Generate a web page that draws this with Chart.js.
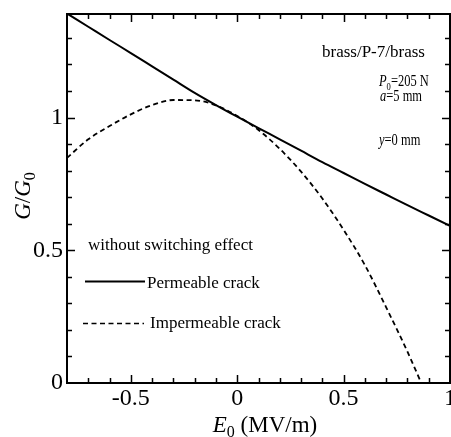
<!DOCTYPE html>
<html>
<head>
<meta charset="utf-8">
<script src="https://cdn.jsdelivr.net/npm/chart.js@4.4.1/dist/chart.umd.min.js"></script>
<style>
html,body{margin:0;padding:0;background:#fff;overflow:hidden}
canvas{display:block}
</style>
</head>
<body>
<canvas id="c" width="451" height="437"></canvas>
<script>
// ---- data ----
const eField      = [-0.8,-0.7,-0.6,-0.5,-0.4,-0.3,-0.2,-0.1,0,0.1,0.2,0.3,0.4,0.5,0.6,0.7,0.8,0.9,1.0];
const permeable   = [1.392,1.342,1.292,1.243,1.193,1.143,1.093,1.047,1.003,0.960,0.918,0.875,0.832,0.791,0.750,0.710,0.670,0.631,0.592];
const eFieldImp   = [-0.8,-0.7,-0.6,-0.5,-0.4,-0.3,-0.2,-0.1,0,0.1,0.2,0.3,0.4,0.5,0.6,0.7,0.8,0.865];
const impermeable = [0.848,0.918,0.968,1.012,1.047,1.066,1.065,1.046,1.006,0.953,0.882,0.796,0.695,0.577,0.444,0.285,0.118,0.0];

const seriesNames = ['Permeable crack', 'Impermeable crack'];
const legendTitle = 'without switching effect';

const xTickValues = [-0.5, 0, 0.5, 1];
const xTickLabels = ['-0.5', '0', '0.5', '1'];
const yTickValues = [0, 0.5, 1];
const yTickLabels = ['0', '0.5', '1'];
const xMinorTicks = [-0.7,-0.6,-0.4,-0.3,-0.2,-0.1,0.1,0.2,0.3,0.4,0.6,0.7,0.8,0.9];
const yMinorTicks = [0.1,0.2,0.3,0.4,0.6,0.7,0.8,0.9,1.1,1.2,1.3];

const xTitle = [{t:'E', i:true}, {t:'0', sub:true}, {t:' (MV/m)'}];
const yTitle = [{t:'G', i:true}, {t:'/'}, {t:'G', i:true}, {t:'0', sub:true}];
const noteMaterial = [{t:'brass/P-7/brass'}];
const noteLoad     = [{t:'P', i:true}, {t:'0', sub:true}, {t:'=205 N'}];
const noteCrack    = [{t:'a', i:true}, {t:'=5 mm'}];
const noteY        = [{t:'y', i:true}, {t:'=0 mm'}];

// ---- helpers ----
const FAMILY = '"Liberation Serif", "Times New Roman", serif';
function segFont(s, size) {
  const sz = s.sub ? Math.round(size * 0.7) : size;
  return (s.i ? 'italic ' : '') + sz + 'px ' + FAMILY;
}
function richWidth(ctx, segs, size) {
  let w = 0;
  segs.forEach(s => { ctx.font = segFont(s, size); w += ctx.measureText(s.t).width; });
  return w;
}
function drawRich(ctx, segs, x, y, size, align, sx) {
  sx = sx || 1;
  ctx.save();
  ctx.translate(x, y);
  ctx.scale(sx, 1);
  let cx = align === 'center' ? -richWidth(ctx, segs, size) / 2 : 0;
  ctx.textAlign = 'left';
  ctx.textBaseline = 'alphabetic';
  segs.forEach(s => {
    ctx.font = segFont(s, size);
    ctx.fillText(s.t, cx, s.sub ? size * 0.22 : 0);
    cx += ctx.measureText(s.t).width;
  });
  ctx.restore();
}

const framePlugin = {
  id: 'frame',
  afterDraw(chart) {
    const ctx = chart.ctx;
    const {left, right, top, bottom} = chart.chartArea;
    const xs = chart.scales.x, ys = chart.scales.y;
    ctx.save();
    ctx.strokeStyle = '#000';
    ctx.fillStyle = '#000';
    ctx.lineWidth = 2;
    ctx.setLineDash([]);
    ctx.strokeRect(left, top, right - left, bottom - top);

    ctx.lineWidth = 1.5;
    const tickX = (v, len) => {
      const p = Math.round(xs.getPixelForValue(v)) + 0.5;
      ctx.beginPath();
      ctx.moveTo(p, bottom); ctx.lineTo(p, bottom - len);
      ctx.moveTo(p, top); ctx.lineTo(p, top + len);
      ctx.stroke();
    };
    const tickY = (v, len) => {
      const p = Math.round(ys.getPixelForValue(v)) + 0.5;
      ctx.beginPath();
      ctx.moveTo(left, p); ctx.lineTo(left + len, p);
      ctx.moveTo(right, p); ctx.lineTo(right - len, p);
      ctx.stroke();
    };
    xTickValues.forEach(v => { if (v > xs.min && v < xs.max) tickX(v, 8); });
    xMinorTicks.forEach(v => tickX(v, 5));
    yTickValues.forEach(v => { if (v > ys.min && v < ys.max) tickY(v, 8); });
    yMinorTicks.forEach(v => tickY(v, 5));

    // axis titles
    drawRich(ctx, xTitle, 265, 432, 23, 'center');
    ctx.save();
    ctx.translate(30, 196);
    ctx.rotate(-Math.PI / 2);
    drawRich(ctx, yTitle, 0, 0, 23, 'center');
    ctx.restore();

    // annotations
    drawRich(ctx, noteMaterial, 322, 57, 17, 'left');
    drawRich(ctx, noteLoad, 379, 86, 16, 'left', 0.78);
    drawRich(ctx, noteCrack, 380, 101, 16, 'left', 0.78);
    drawRich(ctx, noteY, 379, 145, 16, 'left', 0.78);

    // legend
    const ds = chart.data.datasets;
    drawRich(ctx, [{t: legendTitle}], 88, 250, 17, 'left');
    ctx.lineWidth = ds[0].borderWidth;
    ctx.setLineDash([]);
    ctx.beginPath(); ctx.moveTo(85, 281.5); ctx.lineTo(145, 281.5); ctx.stroke();
    drawRich(ctx, [{t: ds[0].label}], 147, 288, 17, 'left');
    ctx.lineWidth = 1.3;
    ctx.setLineDash(ds[1].borderDash);
    ctx.beginPath(); ctx.moveTo(83, 323.5); ctx.lineTo(144, 323.5); ctx.stroke();
    ctx.setLineDash([]);
    drawRich(ctx, [{t: ds[1].label}], 150, 328, 17, 'left');
    ctx.restore();
  }
};

new Chart(document.getElementById('c'), {
  type: 'line',
  data: {
    datasets: [
      {
        label: seriesNames[0],
        data: eField.map((x, i) => ({x, y: permeable[i]})),
        borderColor: '#000', borderWidth: 2, pointRadius: 0,
        cubicInterpolationMode: 'monotone', fill: false
      },
      {
        label: seriesNames[1],
        data: eFieldImp.map((x, i) => ({x, y: impermeable[i]})),
        borderColor: '#000', borderWidth: 1.8, borderDash: [5, 3.5], pointRadius: 0,
        cubicInterpolationMode: 'monotone', fill: false
      }
    ]
  },
  options: {
    responsive: false,
    animation: false,
    devicePixelRatio: 1,
    layout: {padding: {top: 14, right: 1, left: 0, bottom: 0}},
    plugins: {legend: {display: false}, tooltip: {enabled: false}},
    scales: {
      x: {
        type: 'linear', min: -0.8, max: 1.0,
        grid: {display: false, drawTicks: false},
        border: {display: false},
        afterBuildTicks: s => { s.ticks = xTickValues.map(v => ({value: v})); },
        afterFit: s => { s.height = 54; s.paddingLeft = 0; s.paddingRight = 0; },
        ticks: {
          padding: 1, color: '#000', autoSkip: false, maxRotation: 0, minRotation: 0,
          font: {family: FAMILY, size: 24},
          callback: (v, i) => xTickLabels[i]
        }
      },
      y: {
        type: 'linear', min: 0, max: 1.39,
        grid: {display: false, drawTicks: false},
        border: {display: false},
        afterBuildTicks: s => { s.ticks = yTickValues.map(v => ({value: v})); },
        afterFit: s => { s.width = 67; s.paddingTop = 0; s.paddingBottom = 0; },
        ticks: {
          padding: 4, color: '#000', autoSkip: false,
          font: {family: FAMILY, size: 24},
          callback: (v, i) => yTickLabels[i]
        }
      }
    }
  },
  plugins: [framePlugin]
});
</script>
</body>
</html>
